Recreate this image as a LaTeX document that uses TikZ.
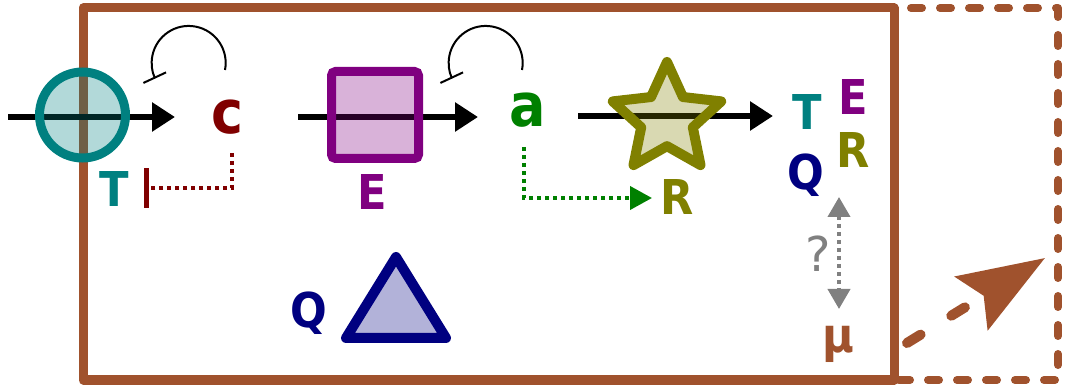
\documentclass[tikz,border=0pt]{standalone}
\usepackage{fontspec}
\newfontfamily\lab{DejaVu Sans Condensed Bold}
\newfontfamily\labr{DejaVu Sans}
\usetikzlibrary{arrows.meta,shapes.geometric,calc}
\definecolor{cteal}{RGB}{0,128,128}
\definecolor{cpurple}{RGB}{128,0,128}
\definecolor{colive}{RGB}{128,128,0}
\definecolor{cnavy}{RGB}{0,0,128}
\definecolor{cmaroon}{RGB}{128,0,0}
\definecolor{cgreen}{RGB}{0,128,0}
\definecolor{cbrown}{RGB}{160,82,45}
\definecolor{cgrey}{RGB}{128,128,128}
\begin{document}
\begin{tikzpicture}[x=1pt,y=-1pt,
  lbl/.style={font=\lab\fontsize{48}{50}\selectfont, inner sep=0pt, anchor=base},
  biglbl/.style={font=\lab\fontsize{60}{62}\selectfont, inner sep=0pt, anchor=base},
  mainarrow/.style={line width=6pt, -{Triangle[length=23pt,width=28pt]}},
  loopst/.style={line width=2pt, -{Bar[width=25pt,line width=2pt]}},
  dots/.style={line width=4pt, dash pattern=on 4pt off 4pt},
  shapest/.style={line width=9pt, fill opacity=0.3, inner sep=0pt}]
\useasboundingbox (0,0) rectangle (1066,387);
% frames
\draw[cbrown, line width=8pt, dash pattern=on 11pt off 18pt, line cap=round, line join=round] (894,8) rectangle (1058,380);
\draw[cbrown, line width=9pt, line join=round] (83,8) rectangle (894,380);
% dashed export arrow
\coordinate (da1) at (907,343);
\coordinate (da2) at (1045,258);
\draw[cbrown, line width=10pt, line cap=round, dash pattern=on 16pt off 36pt,
  -{Stealth[length=86pt,width=62pt,inset=14pt]}] (da1) -- (da2);
% labels
\node[biglbl, cmaroon] (c) at (227,134) {c};
\node[biglbl, cgreen] (a) at (528,127) {a};
\node[lbl, cteal] (T1) at (114,207) {T};
\node[lbl, cpurple] (E1) at (372,210) {E};
\node[lbl, colive] (R1) at (677,215) {R};
\node[lbl, cteal] (T2) at (807,130) {T};
\node[lbl, cpurple] (E2) at (853,115) {E};
\node[lbl, colive] (R2) at (853,168) {R};
\node[lbl, cnavy] (Q2) at (806,190) {Q};
\node[lbl, cnavy] (Q1) at (309,328) {Q};
\node[lbl, cbrown] (mu) at (838,353) {μ};
\node[inner sep=0pt, anchor=base, font=\labr\fontsize{48}{50}\selectfont, cgrey] (qm) at (818,272) {?};
% main flow arrows
\coordinate (s1) at (8,117);   \coordinate (t1) at (175,117);
\coordinate (s2) at (298,117); \coordinate (t2) at (478,117);
\coordinate (s3) at (578,116); \coordinate (t3) at (773,116);
\draw[mainarrow] (s1) -- (t1);
\draw[mainarrow] (s2) -- (t2);
\draw[mainarrow] (s3) -- (t3);
% shapes
\node[shapest, circle, draw=cteal, fill=cteal, minimum size=86pt] (circ) at (82.5,115) {};
\node[shapest, rectangle, rounded corners=4pt, draw=cpurple, fill=cpurple, minimum size=87pt] (box) at (375,115) {};
\node[shapest, star, star points=5, star point ratio=2.1, line width=10pt, line join=round, draw=colive, fill=colive, minimum size=114pt] (star) at (667,119) {};
\coordinate (tri) at (396,310);
\draw[line width=10pt, line join=round, draw=cnavy, fill=cnavy, fill opacity=0.3]
  ($(tri)+(0,-53)$) -- ($(tri)+(-50,28)$) -- ($(tri)+(50,28)$) -- cycle;
% self loops
\draw[loopst] ($(c.base)+(-2,-64)$) arc[start angle=11, end angle=-205, radius=37];
\draw[loopst] ($(a.base)+(-6,-57)$) arc[start angle=11, end angle=-205, radius=37];
% dotted regulations
\draw[dots, cmaroon, -{Bar[width=40pt,line width=5pt]}] ($(c.base)+(5,19)$) |- ($(T1.base)+(30,-19)$);
\draw[dots, cgreen, -{Triangle[length=22pt,width=23pt]}] ($(a.base)+(-4,20)$) |- ($(R1.base)+(-25,-17)$);
\draw[dots, cgrey, {Triangle[length=20pt,width=22pt]}-{Triangle[length=20pt,width=22pt]}] ($(Q2.base)+(33,7)$) -- ($(mu.base)+(1,-44)$);
\end{tikzpicture}
\end{document}
